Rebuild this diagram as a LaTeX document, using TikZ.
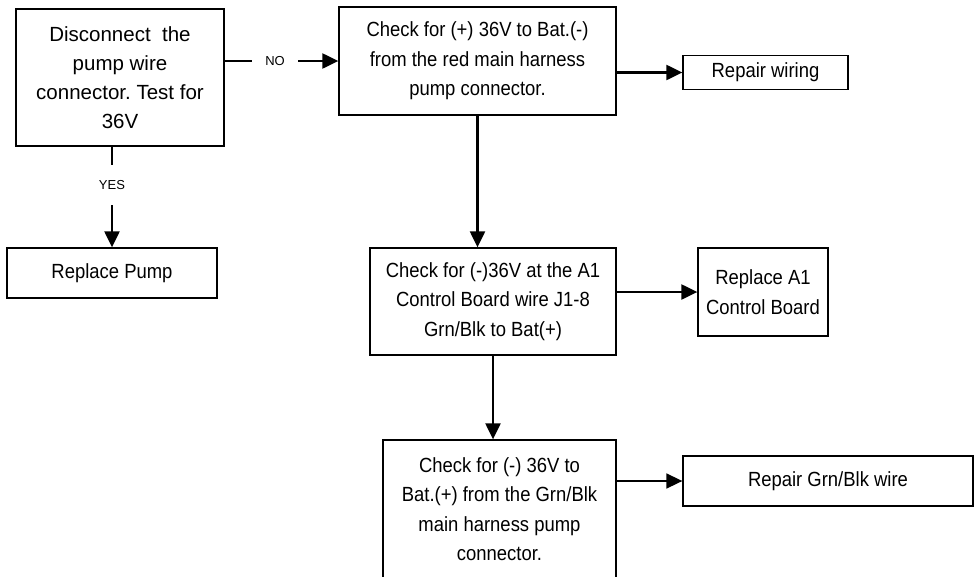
\documentclass[tikz,border=0pt]{standalone}
\usepackage{fontspec}
\setmainfont{Liberation Sans}
\newfontfamily\narrowsans{Liberation Sans}[FakeStretch=0.9]
\usetikzlibrary{arrows.meta}
\frenchspacing
\tikzset{
    testbox/.style={draw, rectangle, line width=1.3pt, align=center, font=\narrowsans\fontsize{20.5}{29.5}\selectfont, inner sep=0pt},
    fixbox/.style={draw, rectangle, line width=1.3pt, align=center, font=\narrowsans\fontsize{20.5}{29.5}\selectfont, inner sep=0pt},
    flow/.style={-{Triangle[length=16pt, width=15pt]}, line width=2.2pt},
    answer/.style={fill=white, font=\fontsize{13}{15}\selectfont, minimum width=46pt, minimum height=40pt, inner sep=0pt}
}
\begin{document}
\begin{tikzpicture}[x=1pt, y=-1pt]
        \useasboundingbox (0,0) rectangle (974,576);

        % Checks
        \node (disc) [testbox, minimum width=208pt, minimum height=137pt, font=\fontsize{20.5}{29}\selectfont] at (120,77.5) {Disconnect\ \ the\\pump wire\\connector. Test for\\36V};
        \node (chk_red) [testbox, minimum width=277pt, minimum height=108pt] at (477.5,61) {Check for (+) 36V to Bat.(-)\\from the red main harness\\pump connector.};
        \node (chk_a1) [testbox, minimum width=246pt, minimum height=107pt] at (493,301.5) {Check for (-)36V at the A1\\Control Board wire J1-8\\Grn/Blk to Bat(+)};
        \node (chk_gb) [testbox, minimum width=233pt, minimum height=138pt] at (499.5,509) {Check for (-) 36V to\\Bat.(+) from the Grn/Blk\\main harness pump\\connector.};

        % Repairs
        \node (rep_pump) [fixbox, minimum width=210pt, minimum height=50pt] at (112,273) {Replace Pump};
        \node (fix_wiring) [fixbox, minimum width=165pt, minimum height=34pt] at (765.5,72.5) {Repair wiring};
        \node (rep_a1) [fixbox, minimum width=130pt, minimum height=88pt] at (763,292) {Replace A1\\Control Board};
        \node (fix_gb) [fixbox, minimum width=290pt, minimum height=50pt] at (828,481) {Repair Grn/Blk wire};

        % Answers of the first test
        \draw[flow] (disc.east |- chk_red.west) -- node[answer, pos=0.443] {NO} (chk_red.west);
        \draw[flow] (disc.south -| rep_pump.north) -- node[answer, pos=0.38] {YES} (rep_pump.north);

        % Down the checks
        \draw[flow] (chk_red.south) -- (chk_red.south |- chk_a1.north);
        \draw[flow] (chk_a1.south) -- (chk_a1.south |- chk_gb.north);

        % Out to the repairs
        \draw[flow] (chk_red.east |- fix_wiring.west) -- (fix_wiring.west);
        \draw[flow] (chk_a1.east |- rep_a1.west) -- (rep_a1.west);
        \draw[flow, line width=1.6pt] (chk_gb.east |- fix_gb.west) -- (fix_gb.west);

    \end{tikzpicture}
\end{document}
